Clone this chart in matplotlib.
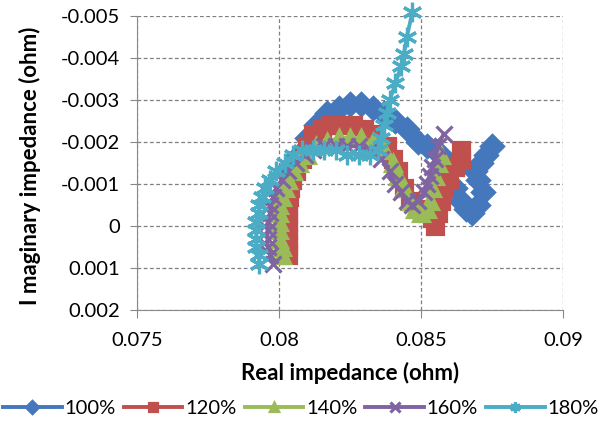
import numpy as np
import matplotlib
matplotlib.use("Agg")
import matplotlib.pyplot as plt
from matplotlib.ticker import FixedLocator, FixedFormatter

plt.rcParams['font.family'] = ['Lato', 'DejaVu Sans']

# 100%
x100 = [0.0802, 0.0803, 0.0805, 0.0807, 0.0810, 0.0813, 0.0817, 0.0821, 0.0825, 0.0829,
        0.0833, 0.0837, 0.0841, 0.0845, 0.0849, 0.0852, 0.0855, 0.0857, 0.0860, 0.0862,
        0.0864, 0.0866, 0.0868, 0.0870, 0.0872, 0.0870, 0.0869, 0.0871, 0.0873, 0.0875]
y100 = [-0.0005, -0.0009, -0.0013, -0.0017, -0.0021, -0.0024, -0.0027, -0.0028, -0.0029, -0.0029,
        -0.0028, -0.0027, -0.0025, -0.0023, -0.0020, -0.0019, -0.0018, -0.0017, -0.0013, -0.0009,
        -0.0006, -0.0004, -0.0003, -0.0005, -0.0008, -0.0011, -0.0013, -0.0015, -0.0017, -0.0019]
# 120%
x120 = [0.0803, 0.0803, 0.0803, 0.0803, 0.0803, 0.0803, 0.0803, 0.08035, 0.0804, 0.08045,
        0.0806, 0.0808, 0.0810, 0.0812, 0.0815, 0.0818, 0.0822, 0.0826, 0.0830, 0.0834,
        0.0838, 0.0840, 0.0842, 0.0844, 0.0846, 0.0849, 0.0852, 0.0854, 0.0855, 0.0856,
        0.0857, 0.0858, 0.0860, 0.0862, 0.0864, 0.0864]
y120 = [0.0007, 0.0005, 0.0003, 0.0001, -0.0001, -0.0003, -0.0005, -0.0007, -0.0009, -0.0011,
        -0.0013, -0.0016, -0.0019, -0.0022, -0.0023, -0.0024, -0.0024, -0.0024, -0.0023, -0.0022,
        -0.0019, -0.0016, -0.0013, -0.0009, -0.0006, -0.0004, -0.0003, -0.0002, 0.0000, -0.0003,
        -0.0006, -0.0009, -0.0011, -0.0014, -0.0016, -0.0018]
# 140%
x140 = [0.0801, 0.0801, 0.0800, 0.0800, 0.0800, 0.0800, 0.0800, 0.0801, 0.0802, 0.0803,
        0.0805, 0.0807, 0.0810, 0.0813, 0.0817, 0.0821, 0.0825, 0.0829, 0.0833, 0.0837,
        0.0840, 0.0842, 0.0844, 0.0846, 0.0848, 0.0850, 0.0852, 0.0853, 0.0854, 0.0855,
        0.0856, 0.0857]
y140 = [0.0007, 0.0005, 0.0003, 0.0001, -0.0001, -0.0003, -0.0005, -0.0007, -0.0009, -0.0011,
        -0.0013, -0.0015, -0.0017, -0.0019, -0.0020, -0.0021, -0.0021, -0.0021, -0.0020, -0.0018,
        -0.0015, -0.0012, -0.0009, -0.0006, -0.0004, -0.0003, -0.0004, -0.0006, -0.0009, -0.0012,
        -0.0015, -0.0017]
# 160%
x160 = [0.0798, 0.0797, 0.0796, 0.0796, 0.0796, 0.0796, 0.0797, 0.0797, 0.0798, 0.0799,
        0.0801, 0.0803, 0.0806, 0.0809, 0.0812, 0.0816, 0.0820, 0.0824, 0.0828, 0.0832,
        0.0836, 0.0839, 0.0841, 0.0843, 0.0845, 0.0847, 0.0849, 0.0851, 0.0852, 0.0853,
        0.0854, 0.0855, 0.0856, 0.0858]
y160 = [0.0009, 0.0007, 0.0005, 0.0003, 0.0001, -0.0001, -0.0003, -0.0005, -0.0007, -0.0009,
        -0.0011, -0.0013, -0.0015, -0.0017, -0.0018, -0.0019, -0.0019, -0.0019, -0.0019, -0.0018,
        -0.0016, -0.0013, -0.0010, -0.0008, -0.0006, -0.0005, -0.0006, -0.0008, -0.0010, -0.0012,
        -0.0014, -0.0016, -0.0019, -0.0022]
# 180%
x180 = [0.0793, 0.0793, 0.0792, 0.0792, 0.0792, 0.0792, 0.0793, 0.0793, 0.0794, 0.0795,
        0.0797, 0.0799, 0.0802, 0.0805, 0.0808, 0.0812, 0.0816, 0.0820, 0.0824, 0.0828,
        0.0832, 0.0835, 0.0836, 0.0837, 0.0838, 0.0839, 0.0841, 0.0843, 0.0844, 0.0845,
        0.0847]
y180 = [0.0009, 0.0007, 0.0005, 0.0003, 0.0001, -0.0001, -0.0003, -0.0005, -0.0007, -0.0009,
        -0.0011, -0.0013, -0.0015, -0.0017, -0.0018, -0.0018, -0.0018, -0.0018, -0.0017, -0.0017,
        -0.0017, -0.0018, -0.0021, -0.0024, -0.0027, -0.0030, -0.0034, -0.0038, -0.0041, -0.0045,
        -0.0051]

labels = ['100%', '120%', '140%', '160%', '180%']
xticks = [0.075, 0.08, 0.085, 0.09]
xticklabels = ['0.075', '0.08', '0.085', '0.09']
yticks = [-0.005, -0.004, -0.003, -0.002, -0.001, 0, 0.001, 0.002]
yticklabels = ['-0.005', '-0.004', '-0.003', '-0.002', '-0.001', '0', '0.001', '0.002']

colors = ['#4477BC', '#C0504D', '#9BBB59', '#8064A2', '#4BACC6']
markers = ['D', 's', '^', 'x', (6, 2, 0)]
msizes = [11, 11, 11, 12, 14]

fig = plt.figure(figsize=(6.02, 4.24), dpi=100)
ax = fig.add_axes([137/602, 1-310/424, (563-137)/602, (310-16)/424])

series = [(x100, y100), (x120, y120), (x140, y140), (x160, y160), (x180, y180)]
for (xs, ys), lab, c, m, ms in zip(series, labels, colors, markers, msizes):
    ax.plot(xs, ys, color=c, lw=2.8, marker=m, ms=ms, mew=2.3, mfc=c, mec=c,
            label=lab, clip_on=False)

ax.set_xlim(0.075, 0.09)
ax.set_ylim(0.002, -0.005)
ax.xaxis.set_major_locator(FixedLocator(xticks))
ax.xaxis.set_major_formatter(FixedFormatter(xticklabels))
ax.yaxis.set_major_locator(FixedLocator(yticks))
ax.yaxis.set_major_formatter(FixedFormatter(yticklabels))

ax.grid(True, color='#7f7f7f', ls=(0, (3, 2)), lw=0.9)
ax.set_axisbelow(True)
for s in ['top', 'right']:
    ax.spines[s].set_visible(False)
for s in ['left', 'bottom']:
    ax.spines[s].set_color('#888888')
ax.tick_params(axis='x', direction='out', length=6, color='#888888', labelsize=14.5, pad=10)
ax.tick_params(axis='y', direction='out', length=5, color='#888888', labelsize=14.5, pad=7)

ax.set_xlabel('Real impedance (ohm)', fontsize=16, fontweight='bold', labelpad=9)
ax.set_ylabel('I maginary impedance (ohm)', fontsize=16, fontweight='bold')
ax.yaxis.set_label_coords(-0.225, 0.49)

fig.legend(loc='lower center', bbox_to_anchor=(0.5, -0.012), ncol=5, frameon=False,
           fontsize=14.5, handlelength=2.9, handletextpad=0.15, columnspacing=0.4,
           numpoints=1, markerscale=0.55, borderaxespad=0.2)

fig.savefig('out.png', dpi=100)
